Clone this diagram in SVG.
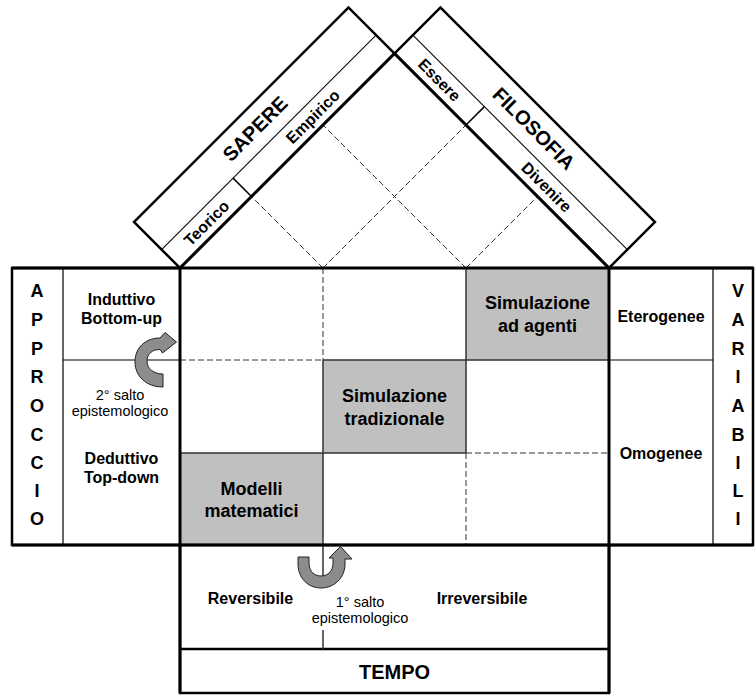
<svg xmlns="http://www.w3.org/2000/svg" width="756" height="696" viewBox="0 0 756 696">
  <style>
    text { font-family: "Liberation Sans", Arial, Helvetica, sans-serif; fill: #000; text-anchor: middle; }
    .b16 { font-size: 16px; font-weight: bold; }
    .b18 { font-size: 18px; font-weight: bold; }
    .b20 { font-size: 20px; font-weight: bold; }
    .r14 { font-size: 14.5px; }
    .frame { fill: none; stroke: #000; stroke-width: 2.5; }
    .roof { fill: none; stroke: #000; stroke-width: 3; }
    .thin { fill: none; stroke: #000; stroke-width: 1; }
    .cellline { fill: none; stroke: #333; stroke-width: 1.5; }
    .dash { fill: none; stroke: #333; stroke-width: 1; stroke-dasharray: 6 3; }
    .shade { fill: #c0c0c0; }
    .jump { fill: #8c8c8c; stroke: #222; stroke-width: 1; stroke-linejoin: round; }
  </style>

  <rect width="756" height="696" fill="#fff"/>

  <!-- shaded cells of the 3x3 matrix -->
  <g id="cell-sim-agenti">
    <rect class="shade" x="466" y="268" width="143" height="92"/>
    <text class="b18" x="537.5" y="309">Simulazione</text>
    <text class="b18" x="537.5" y="332">ad agenti</text>
  </g>
  <g id="cell-sim-trad">
    <rect class="shade" x="323" y="360" width="143" height="93"/>
    <text class="b18" x="394.5" y="402">Simulazione</text>
    <text class="b18" x="394.5" y="425">tradizionale</text>
  </g>
  <g id="cell-modelli">
    <rect class="shade" x="180" y="453" width="143" height="92"/>
    <text class="b18" x="251.5" y="495">Modelli</text>
    <text class="b18" x="251.5" y="517">matematici</text>
  </g>

  <!-- grid and guide lines -->
  <g id="connectors">
    <!-- dashed guides inside the matrix -->
    <path class="dash" d="M180,360 H323 M323,268 V360 M466,453 H609 M466,453 V545"/>
    <!-- solid borders of the shaded cells -->
    <path class="cellline" d="M323,360 H609 M180,453 H466 M323,360 V545 M466,268 V453"/>
    <!-- dashed projection under the roof -->
    <path class="dash" d="M323,268 L251.5,196.5 M323,268 L466,125 M466,268 L537.5,196.5 M466,268 L323,125"/>
  </g>

  <!-- SAPERE roof panel -->
  <g id="sapere" transform="translate(180,268) rotate(-45)">
    <rect x="0" y="-65" width="303.3" height="65" fill="#fff" stroke="#000" stroke-width="2.5"/>
    <line class="thin" x1="0" y1="-26" x2="303.3" y2="-26"/>
    <line x1="101.1" y1="-26" x2="101.1" y2="0" stroke="#000" stroke-width="1.5"/>
    <line class="roof" x1="0" y1="0" x2="303.3" y2="0"/>
    <text class="b20" x="151.6" y="-38.5">SAPERE</text>
    <text class="b16" x="50.5" y="-7.5">Teorico</text>
    <text class="b16" x="201" y="-7.5">Empirico</text>
  </g>

  <!-- FILOSOFIA roof panel -->
  <g id="filosofia" transform="translate(394.5,53.5) rotate(45)">
    <rect x="0" y="-65" width="303.3" height="65" fill="none" stroke="#000" stroke-width="2.5"/>
    <line class="thin" x1="0" y1="-26" x2="303.3" y2="-26"/>
    <line x1="101.1" y1="-26" x2="101.1" y2="0" stroke="#000" stroke-width="1.5"/>
    <line class="roof" x1="0" y1="0" x2="303.3" y2="0"/>
    <text class="b20" x="151.6" y="-38.5">FILOSOFIA</text>
    <text class="b16" x="50.5" y="-7.5">Essere</text>
    <text class="b16" x="202" y="-7.5">Divenire</text>
  </g>

  <!-- APPROCCIO side panel -->
  <g id="approccio">
    <path class="frame" d="M180,268 H12 V545 H180"/>
    <line class="cellline" x1="63" y1="268" x2="63" y2="545"/>
    <line class="thin" x1="63" y1="360" x2="180" y2="360"/>
    <text class="b18" x="37">
      <tspan x="37" y="297">A</tspan><tspan x="37" y="326">P</tspan><tspan x="37" y="355">P</tspan><tspan x="37" y="383">R</tspan><tspan x="37" y="412">O</tspan><tspan x="37" y="441">C</tspan><tspan x="37" y="469">C</tspan><tspan x="37" y="497">I</tspan><tspan x="37" y="525">O</tspan>
    </text>
    <text class="b16" x="121.5" y="305">Induttivo</text>
    <text class="b16" x="121.5" y="324">Bottom-up</text>
    <text class="r14" x="120" y="400">2° salto</text>
    <text class="r14" x="120" y="416">epistemologico</text>
    <text class="b16" x="121.5" y="464">Deduttivo</text>
    <text class="b16" x="121.5" y="483">Top-down</text>
  </g>

  <!-- VARIABILI side panel -->
  <g id="variabili">
    <path class="frame" d="M609,268 H753 V545 H609"/>
    <line class="cellline" x1="713" y1="268" x2="713" y2="545"/>
    <line class="thin" x1="609" y1="360" x2="713" y2="360"/>
    <text class="b16" x="661" y="322">Eterogenee</text>
    <text class="b16" x="661" y="459">Omogenee</text>
    <text class="b18" x="738">
      <tspan x="738" y="297">V</tspan><tspan x="738" y="326">A</tspan><tspan x="738" y="355">R</tspan><tspan x="738" y="383">I</tspan><tspan x="738" y="412">A</tspan><tspan x="738" y="441">B</tspan><tspan x="738" y="469">I</tspan><tspan x="738" y="497">L</tspan><tspan x="738" y="525">I</tspan>
    </text>
  </g>

  <!-- TEMPO bottom panel -->
  <g id="tempo">
    <rect class="frame" x="180" y="545" width="429" height="148"/>
    <line class="frame" x1="180" y1="649" x2="609" y2="649"/>
    <path class="cellline" d="M323,545 V588 M323,630 V649"/>
    <text class="b16" x="250.5" y="604">Reversibile</text>
    <text class="b16" x="482" y="604">Irreversibile</text>
    <text class="r14" x="360" y="607">1° salto</text>
    <text class="r14" x="360" y="623">epistemologico</text>
    <text class="b20" x="394.5" y="679">TEMPO</text>
  </g>

  <!-- main matrix frame -->
  <g id="matrix">
    <path class="roof" d="M12,268 H753 M12,545 H753 M180,268 V693 M609,268 V693"/>
  </g>

  <!-- epistemological jumps -->
  <g id="salto2">
    <path class="jump" d="M163,387 C146,387 135,376 135,362 C135,347 146,338 160,338 L165,332.5 L176.5,342 L162.5,353 L160,349.5 C152,349.5 147,354 147,361 C147,369 154,374 163,374 Z"/>
  </g>
  <g id="salto1">
    <path class="jump" d="M298,557 L309,557 L309,563 C309,571 314,576 321,576 C328,576 333,571 333,563 L333,558 L329,558 L340.5,546.5 L352,559 L345,559 L345,564 C345,578 334,588 321,588 C308,588 298,578 298,564 Z"/>
  </g>
</svg>
